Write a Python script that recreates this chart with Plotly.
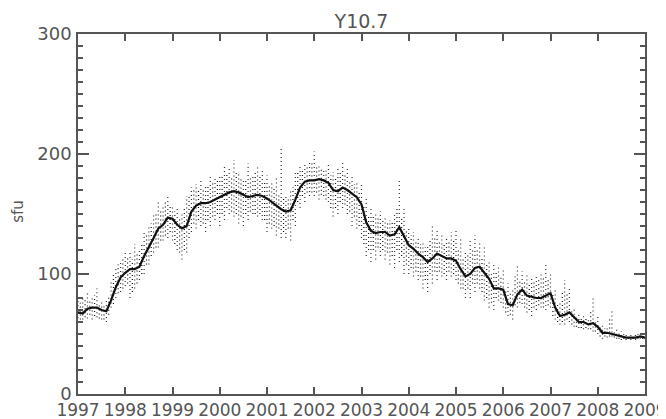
import plotly.graph_objects as go

# time axis, decimal years, 0.1-year steps
years = [round(1997 + 0.1 * i, 1) for i in range(121)]
mid_years = [round(1997.05 + 0.1 * i, 2) for i in range(120)]

# smoothed (81-day) F10.7 flux, sfu
smooth = [
    68, 67, 71, 72, 72, 70, 69, 78, 89, 97,
    101, 104, 104, 106, 115, 122, 130, 138, 141, 147,
    146, 141, 138, 140, 152, 157, 159, 159, 160, 162,
    164, 166, 168, 169, 168, 166, 164, 165, 166, 165,
    163, 160, 157, 154, 152, 153, 162, 172, 177, 178,
    178, 179, 178, 176, 170, 169, 172, 170, 167, 164,
    158, 143, 136, 134, 135, 135, 132, 133, 139, 132,
    124, 121, 117, 114, 110, 113, 117, 115, 113, 113,
    111, 104, 98, 100, 105, 106, 101, 96, 88, 88,
    87, 75, 74, 83, 87, 82, 81, 80, 80, 82,
    84, 72, 65, 66, 68, 64, 60, 60, 58, 59,
    56, 51, 51, 50, 49, 48, 47, 47, 47, 48,
    47,
]

# full spread of the daily values around each 0.1-year point
daily_lo = [
    60, 62, 63, 62, 64, 62, 60, 72, 80, 85,
    90, 80, 88, 95, 100, 108, 118, 122, 128, 130,
    128, 120, 112, 118, 135, 138, 140, 135, 140, 145,
    140, 145, 150, 148, 142, 140, 145, 150, 148, 145,
    135, 138, 132, 130, 130, 128, 140, 155, 160, 165,
    165, 162, 165, 160, 148, 150, 155, 150, 140, 138,
    130, 115, 110, 112, 115, 112, 108, 105, 110, 100,
    100, 98, 95, 88, 85, 92, 95, 98, 95, 98,
    95, 88, 80, 80, 85, 88, 78, 72, 70, 78,
    72, 65, 62, 72, 75, 68, 65, 70, 72, 70,
    72, 62, 58, 58, 60, 56, 55, 54, 54, 52,
    50, 46, 47, 48, 46, 45, 45, 45, 45, 46,
    46,
]
daily_hi = [
    78, 82, 85, 80, 88, 78, 80, 95, 105, 110,
    120, 118, 125, 120, 135, 140, 150, 160, 158, 165,
    158, 155, 150, 165, 172, 175, 178, 175, 182, 180,
    183, 190, 188, 195, 185, 180, 192, 182, 190, 188,
    182, 178, 180, 205, 165, 170, 185, 190, 192, 195,
    202, 190, 188, 192, 185, 190, 195, 188, 182, 178,
    175, 165, 155, 150, 152, 148, 145, 150, 178, 155,
    140, 135, 130, 128, 125, 140, 138, 132, 130, 135,
    138, 130, 118, 128, 132, 128, 122, 112, 110, 108,
    105, 92, 88, 108, 102, 100, 98, 100, 102, 108,
    102, 88, 78, 95, 90, 72, 68, 66, 64, 80,
    65, 58, 56, 70, 54, 52, 50, 50, 50, 50,
    49,
]

# denser core of the daily values, between the 0.1-year points
mid_lo = [
    62, 64, 66, 65, 63, 62, 66, 75, 84, 88,
    92, 85, 92, 100, 108, 115, 122, 128, 132, 135,
    125, 118, 120, 130, 142, 145, 142, 145, 148, 150,
    150, 155, 152, 150, 148, 150, 152, 150, 150, 145,
    142, 140, 138, 135, 138, 145, 160, 165, 168, 168,
    168, 166, 162, 155, 155, 160, 158, 152, 148, 140,
    125, 120, 120, 122, 120, 118, 115, 120, 115, 108,
    105, 102, 98, 95, 100, 102, 102, 100, 102, 100,
    92, 88, 88, 92, 92, 85, 80, 76, 80, 76,
    68, 66, 74, 76, 72, 70, 72, 74, 72, 74,
    65, 60, 60, 62, 58, 56, 55, 55, 54, 52,
    48, 48, 48, 47, 46, 46, 46, 46, 46, 46,
]
mid_hi = [
    76, 80, 78, 82, 76, 74, 82, 100, 108, 112,
    115, 112, 118, 125, 132, 142, 150, 152, 160, 158,
    152, 148, 155, 165, 170, 170, 172, 175, 176, 178,
    182, 185, 182, 185, 180, 178, 180, 185, 182, 178,
    175, 172, 168, 165, 162, 172, 185, 188, 190, 192,
    190, 188, 186, 182, 180, 185, 182, 178, 175, 170,
    158, 150, 148, 148, 146, 142, 145, 155, 148, 138,
    132, 128, 125, 122, 130, 132, 128, 126, 128, 128,
    120, 112, 118, 122, 120, 115, 108, 100, 102, 98,
    88, 84, 98, 96, 94, 92, 94, 96, 98, 96,
    85, 75, 85, 84, 70, 66, 64, 63, 70, 62,
    57, 55, 62, 53, 51, 50, 49, 49, 50, 49,
]

x_ticks = list(range(1997, 2010))


def streaks(ts, lows, highs):
    xs, ys = [], []
    for t, lo, hi in zip(ts, lows, highs):
        xs += [t, t, None]
        ys += [lo, hi, None]
    return xs, ys


fig = go.Figure()
# daily values drawn as dotted vertical streaks
for ts, lows, highs, col in [(years, daily_lo, daily_hi, "#333"),
                             (mid_years, mid_lo, mid_hi, "#111")]:
    sx, sy = streaks(ts, lows, highs)
    fig.add_trace(go.Scatter(x=sx, y=sy, mode="lines",
                             line=dict(color=col, width=1.2, dash="1px,3px"),
                             hoverinfo="skip", showlegend=False))
fig.add_trace(go.Scatter(x=years, y=smooth, mode="lines",
                         line=dict(color="#111", width=2.2),
                         showlegend=False))

axis_font = dict(family="DejaVu Sans", size=17, color="#555")
fig.update_xaxes(range=[1997, 2009], tickvals=x_ticks, ticktext=[str(y) for y in x_ticks],
                 ticks="inside", ticklen=7, tickwidth=1.5, tickcolor="#555",
                 showline=True, linecolor="#555", linewidth=1.5, mirror="ticks",
                 showgrid=False, zeroline=False, tickfont=axis_font,
                 ticklabeloverflow="allow", automargin=False)
fig.update_yaxes(range=[0, 300], tickvals=[0, 100, 200, 300],
                 ticks="inside", ticklen=11, tickwidth=1.5, tickcolor="#555",
                 minor=dict(dtick=10, ticks="inside", ticklen=5, tickcolor="#555", tickwidth=1.5),
                 showline=True, linecolor="#555", linewidth=1.5, mirror="ticks",
                 showgrid=False, zeroline=False, tickfont=dict(axis_font, size=18),
                 ticklabelstandoff=1, automargin=False)

fig.add_annotation(text="sfu", textangle=-90, xref="paper", yref="paper",
                   x=(18 - 78) / 567, y=0.506, xanchor="center", yanchor="middle",
                   showarrow=False,
                   font=dict(family="DejaVu Sans", size=15, color="#555"))

# the page body adds an 8px offset, so margins are set 8px tighter on the top/left
fig.update_layout(
    title=dict(text="Y10.7", x=0.5, xref="paper", y=1 - 13 / 419, yanchor="middle",
               font=dict(family="DejaVu Sans", size=19, color="#555")),
    width=666, height=419,
    margin=dict(l=70, r=29, t=26, b=33, autoexpand=False),
    plot_bgcolor="white", paper_bgcolor="white",
)

fig.write_html("out.html")
